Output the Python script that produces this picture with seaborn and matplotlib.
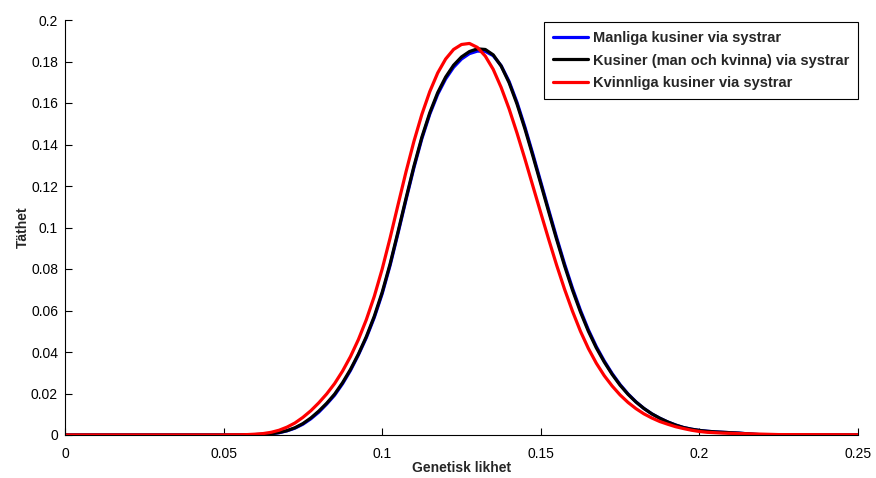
import matplotlib
matplotlib.use("Agg")
import matplotlib.pyplot as plt
import matplotlib.ticker as mticker
import pandas as pd
import seaborn as sns

# genetisk likhet (x), gemensamt för alla tre kurvorna
likhet = [0.0, 0.05, 0.0525, 0.055, 0.0575, 0.06, 0.0625, 0.065, 0.0675, 0.07,
          0.0725, 0.075, 0.0775, 0.08, 0.0825, 0.085, 0.0875, 0.09, 0.0925,
          0.095, 0.0975, 0.1, 0.1025, 0.105, 0.1075, 0.11, 0.1125, 0.115,
          0.1175, 0.12, 0.1225, 0.125, 0.1275, 0.13, 0.1325, 0.135, 0.1375,
          0.14, 0.1425, 0.145, 0.1475, 0.15, 0.1525, 0.155, 0.1575, 0.16,
          0.1625, 0.165, 0.1675, 0.17, 0.1725, 0.175, 0.1775, 0.18, 0.1825,
          0.185, 0.1875, 0.19, 0.1925, 0.195, 0.1975, 0.2, 0.2025, 0.205,
          0.2075, 0.21, 0.2125, 0.215, 0.2175, 0.22, 0.2225, 0.225, 0.25]

# täthet
tathet_manliga = [0.0, 0.0, 0.0, 0.0, 0.0001, 0.0002, 0.0003, 0.0006, 0.0011,
                  0.002, 0.0033, 0.0052, 0.0078, 0.011, 0.0149, 0.0192,
                  0.0247, 0.0311, 0.0386, 0.0469, 0.0566, 0.0681, 0.0818,
                  0.0973, 0.1133, 0.1288, 0.1428, 0.1546, 0.1642, 0.1716,
                  0.1772, 0.1812, 0.1838, 0.185, 0.1849, 0.1828, 0.178,
                  0.1704, 0.1603, 0.1484, 0.1354, 0.1219, 0.1084, 0.0951,
                  0.0824, 0.0707, 0.0601, 0.0507, 0.0426, 0.0357, 0.0296,
                  0.0243, 0.0198, 0.016, 0.0128, 0.0102, 0.0081, 0.0063,
                  0.0048, 0.0036, 0.0028, 0.0022, 0.0018, 0.0015, 0.0013,
                  0.0011, 0.0009, 0.0006, 0.0003, 0.0001, 0.0, 0.0, 0.0]

tathet_kusiner = [0.0, 0.0, 0.0, 0.0, 0.0001, 0.0002, 0.0003, 0.0006, 0.0012,
                  0.0021, 0.0035, 0.0055, 0.0082, 0.0115, 0.0153, 0.0197,
                  0.0252, 0.0316, 0.039, 0.0474, 0.0572, 0.0688, 0.0825,
                  0.098, 0.114, 0.1295, 0.1435, 0.1553, 0.165, 0.1725,
                  0.1782, 0.1822, 0.1848, 0.1861, 0.1858, 0.1832, 0.1778,
                  0.1698, 0.1595, 0.1475, 0.1345, 0.121, 0.1075, 0.0942,
                  0.0815, 0.0698, 0.0593, 0.05, 0.042, 0.0352, 0.0292, 0.024,
                  0.0196, 0.0159, 0.0128, 0.0102, 0.0081, 0.0063, 0.0048,
                  0.0036, 0.0028, 0.0022, 0.0018, 0.0015, 0.0013, 0.0011,
                  0.0009, 0.0006, 0.0003, 0.0001, 0.0, 0.0, 0.0]

tathet_kvinnliga = [0.0, 0.0, 0.0001, 0.0001, 0.0002, 0.0004, 0.0007, 0.0013,
                    0.0023, 0.0038, 0.0058, 0.0085, 0.0117, 0.0155, 0.0198,
                    0.0248, 0.0308, 0.0378, 0.046, 0.0556, 0.0668, 0.08,
                    0.095, 0.111, 0.1268, 0.1415, 0.1545, 0.1655, 0.1745,
                    0.1812, 0.1858, 0.1882, 0.1887, 0.1868, 0.1826, 0.1762,
                    0.1675, 0.1572, 0.1455, 0.133, 0.12, 0.107, 0.0942,
                    0.0818, 0.0702, 0.0596, 0.05, 0.0417, 0.0346, 0.0286,
                    0.0236, 0.0193, 0.0157, 0.0127, 0.0102, 0.0082, 0.0065,
                    0.0052, 0.004, 0.0031, 0.0023, 0.0017, 0.0013, 0.0011,
                    0.0009, 0.0008, 0.0007, 0.0006, 0.0005, 0.0004, 0.0003,
                    0.0002, 0.0001]

namn = ["Manliga kusiner via systrar",
        "Kusiner (man och kvinna) via systrar",
        "Kvinnliga kusiner via systrar"]
farger = ["#0000ff", "#000000", "#ff0000"]

df = pd.concat([
    pd.DataFrame({"x": likhet, "y": tathet_manliga, "grupp": namn[0]}),
    pd.DataFrame({"x": likhet, "y": tathet_kusiner, "grupp": namn[1]}),
    pd.DataFrame({"x": likhet, "y": tathet_kvinnliga, "grupp": namn[2]}),
])

sns.set_style("ticks")
plt.rcParams["font.family"] = ["Liberation Sans", "DejaVu Sans"]

fig = plt.figure(figsize=(8.76, 4.78), dpi=100)
ax = fig.add_axes([65 / 876, 43 / 478, 793 / 876, 415 / 478])

sns.lineplot(data=df, x="x", y="y", hue="grupp", hue_order=namn,
             palette=farger, estimator=None, sort=True, linewidth=2.3, ax=ax)

ax.set_xlim(0, 0.25)
ax.set_ylim(0, 0.2)
ax.set_xticks([0, 0.05, 0.1, 0.15, 0.2, 0.25])
ax.set_yticks([0, 0.02, 0.04, 0.06, 0.08, 0.1, 0.12, 0.14, 0.16, 0.18, 0.2])
ax.xaxis.set_major_formatter(mticker.FormatStrFormatter("%g"))
ax.yaxis.set_major_formatter(mticker.FormatStrFormatter("%g"))
ax.tick_params(direction="in", length=5, width=0.8, labelsize=10,
               colors="black")
ax.tick_params(axis="x", pad=9)
ax.tick_params(axis="y", pad=5)
for s in ["top", "right"]:
    ax.spines[s].set_visible(False)
for s in ["left", "bottom"]:
    ax.spines[s].set_color("black")
    ax.spines[s].set_linewidth(0.8)

ax.set_xlabel("Genetisk likhet", fontsize=10, fontweight="bold", labelpad=0)
ax.set_ylabel("Täthet", fontsize=10, fontweight="bold", labelpad=1)

leg = ax.legend(loc="upper right", bbox_to_anchor=(1.0, 0.995), fontsize=10.5,
                frameon=True, fancybox=False, handlelength=2.4,
                handletextpad=0.35, borderpad=0.6, labelspacing=0.6,
                borderaxespad=0.0)
leg.get_frame().set_edgecolor("black")
leg.get_frame().set_linewidth(0.8)
leg.get_frame().set_alpha(1)
for t in leg.get_texts():
    t.set_fontweight("bold")

fig.savefig("out.png", dpi=100)
